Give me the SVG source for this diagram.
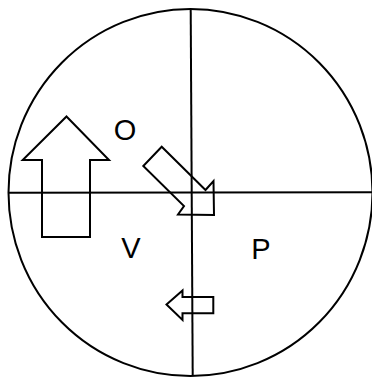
<svg xmlns="http://www.w3.org/2000/svg" width="372" height="378" viewBox="0 0 372 378">
<style>
.ln{fill:none;stroke:#000;stroke-width:2}
.ar{fill:#fff;stroke:#000;stroke-width:2;stroke-linejoin:miter}
.lb{font-family:"Liberation Sans",Arial,sans-serif;font-size:29px;fill:#000;text-anchor:middle}
</style>
<rect width="372" height="378" fill="#fff"/>
<g id="arrow-up">
<polygon class="ar" points="66.5,116.5 109,160 90,160 90,237 42,237 42,160 22.7,160"/>
</g>
<g id="arrow-diag">
<polygon class="ar" points="161.7,146.7 143.3,166 184,206 178,214.5 214,215 213.5,181 205.5,190"/>
</g>
<g id="arrow-left">
<polygon class="ar" points="166.5,304.5 182.5,290.5 182.5,297 213.3,297 213.3,313.3 182.5,313.3 182.5,320"/>
</g>
<g id="connectors">
<ellipse class="ln" cx="190.5" cy="192.5" rx="182" ry="183.5"/>
<line class="ln" x1="9" y1="192.8" x2="372" y2="192.3"/>
<line class="ln" x1="190.7" y1="9" x2="192.7" y2="376"/>
</g>
<g id="label-O"><text class="lb" x="125" y="139.5">O</text></g>
<g id="label-V"><text class="lb" x="131" y="258">V</text></g>
<g id="label-P"><text class="lb" x="261" y="259">P</text></g>
</svg>
